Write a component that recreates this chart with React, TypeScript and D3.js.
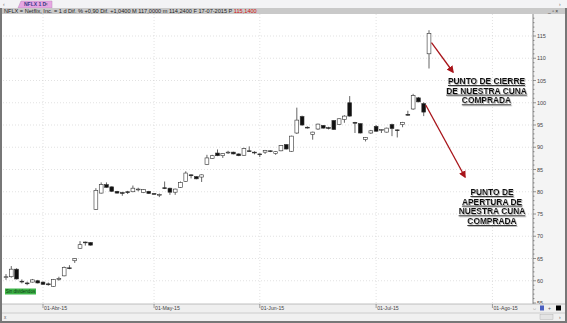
import React from "react";
import * as d3 from "d3";

const W = 567;
const H = 323;

const holidays = ["2015-04-03", "2015-05-25", "2015-07-03"];
const startDate = "2015-03-23";
const endDate = "2015-08-31";

const opens = [60.7,60.9,62.6,59.9,59.5,59.7,60.0,59.7,59.3,58.7,60.3,61.1,62.9,64.5,67.3,68.7,68.6,76.0,79.7,81.6,81.1,80.1,79.8,80.0,80.0,80.5,79.8,80.1,79.6,79.3,80.9,80.8,79.9,81.0,82.3,83.8,83.4,83.3,86.1,87.5,88.7,88.1,88.8,88.9,88.5,88.2,89.2,88.9,88.5,88.9,89.2,88.6,89.2,90.6,89.1,93.2,96.9,94.5,92.9,94.1,94.9,94.4,96.0,95.1,96.2,100.0,95.6,95.3,91.7,93.2,94.7,93.9,93.4,95.1,93.9,95.1,97.4,98.6,101.1,99.8,111.0];
const highs = [61.5,63.3,62.8,60.3,59.8,60.4,60.2,59.8,59.6,60.4,60.9,63.2,63.5,65.1,68.9,68.8,68.7,80.8,82.1,82.1,81.2,80.2,80.0,80.2,81.4,80.9,80.6,80.2,79.7,79.6,82.3,80.9,80.7,82.3,84.6,83.9,83.5,83.9,88.3,88.3,89.5,88.7,89.2,89.0,88.6,89.9,90.2,89.1,88.6,89.4,89.3,89.1,90.5,90.7,92.6,98.9,97.1,94.7,93.5,95.3,95.0,94.6,96.1,96.5,97.2,101.5,95.7,95.4,92.3,93.9,95.0,94.1,94.4,95.3,94.0,95.7,98.2,102.0,101.3,100.1,116.3];
const lows = [60.2,60.7,60.3,59.4,59.0,59.6,59.4,59.1,58.9,58.6,60.0,61.0,62.6,64.0,67.2,67.9,67.9,75.9,79.6,80.9,80.0,79.6,79.1,79.5,79.9,80.1,79.7,79.5,79.4,78.8,80.6,79.3,79.3,80.9,82.2,83.0,82.8,82.2,86.0,87.4,88.0,87.6,88.5,88.4,88.0,88.1,89.0,88.4,87.8,88.5,88.9,88.3,89.1,89.5,89.0,93.0,94.8,94.2,91.7,93.9,94.2,94.0,93.9,95.0,95.5,96.9,93.2,93.1,91.3,93.0,93.5,93.2,93.3,92.5,92.2,94.5,97.1,98.4,100.1,97.0,107.7];
const closes = [60.9,62.6,60.4,59.8,59.4,60.2,59.5,59.2,59.1,60.3,60.5,63.0,62.8,65.0,68.1,68.6,68.0,80.3,81.6,81.0,80.1,79.7,79.7,79.8,80.8,80.6,80.5,79.6,79.5,79.4,80.7,79.9,80.6,82.1,84.2,83.6,82.9,83.8,87.6,88.1,88.1,88.6,88.9,88.5,88.1,89.7,89.1,88.8,88.4,89.3,89.1,89.0,90.4,89.6,92.5,96.1,95.0,94.4,93.4,95.2,94.3,94.3,94.0,96.4,97.0,97.0,95.4,93.2,92.2,93.7,93.6,94.0,94.3,94.2,93.8,95.6,97.2,101.6,100.2,97.9,115.6];

const yTicks = [55, 60, 65, 70, 75, 80, 85, 90, 95, 100, 105, 110, 115];
const monthNames = ["Ene", "Feb", "Mar", "Abr", "May", "Jun", "Jul", "Ago", "Sep", "Oct", "Nov", "Dic"];

const headerText = "NFLX = Netflix, Inc. =  1 d Dif. %  +0,90 Dif.  +1,0400 M  117,0000 m  114,2400 F  17-07-2015 P";
const headerLast = "115,1400";

const note1 = ["PUNTO DE CIERRE", "DE NUESTRA CUNA", "COMPRADA"];
const note2 = ["PUNTO DE", "APERTURA DE", "NUESTRA CUNA", "COMPRADA"];

const parse = d3.timeParse("%Y-%m-%d");
const fmt = d3.timeFormat("%Y-%m-%d");
const tradingDays = d3.timeDay
  .range(parse(startDate)!, d3.timeDay.offset(parse(endDate)!, 1))
  .filter((d) => d.getDay() !== 0 && d.getDay() !== 6 && !holidays.includes(fmt(d)));

export default function App() {
  const plotL = 3, plotR = 533, plotT = 14, plotB = 304;
  const x = d3.scaleLinear().domain([0, 80]).range([6, 429]);
  const y = d3.scaleLinear().domain([55, 115]).range([303, 36]);

  const monthTicks: { i: number; d: Date }[] = [];
  tradingDays.forEach((d, i) => {
    if (i > 0 && d.getMonth() !== tradingDays[i - 1].getMonth()) monthTicks.push({ i, d });
  });

  const minor = d3.range(55, 120, 1);
  const bw = 3.8;

  return (
    <svg width={W} height={H} style={{ position: "absolute", left: 0, top: 0, fontFamily: "Arial, 'Liberation Sans', sans-serif" }}>
      <defs>
        <marker id="ah" viewBox="0 0 10 10" refX="8" refY="5" markerWidth="5.5" markerHeight="5.5" orient="auto">
          <path d="M0,0 L10,5 L0,10 z" fill="#a8141a" />
        </marker>
        <filter id="sh" x="-10%" y="-10%" width="130%" height="140%">
          <feDropShadow dx="0.8" dy="0.8" stdDeviation="0.4" floodColor="#888" floodOpacity="0.8" />
        </filter>
      </defs>
      <rect x={0} y={0} width={W} height={H} fill="#ffffff" />
      {/* tab strip */}
      <rect x={0} y={0} width={W} height={8} fill="#f3f3f5" />
      <text x={3} y={6} fontSize={5} fill="#666">‹</text>
      <path d="M18,8 L21,1 L52,1 L52,8 Z" fill="#e7a6e3" stroke="#b98ab8" strokeWidth={0.5} />
      <text x={24} y={6.3} fontSize={5} fontWeight="bold" fill="#3a3a8a">NFLX 1 D</text>
      <text x={45} y={6.3} fontSize={5} fill="#666">×</text>
      <text x={559} y={6} fontSize={5} fill="#666">›</text>
      {/* info bar */}
      <rect x={2} y={8} width={W - 4} height={6} fill="#c9c9c9" />
      <text x={4} y={12.9} fontSize={5.6} fill="#222">
        {headerText} <tspan fill="#d01010">{headerLast}</tspan>
      </text>
      <text x={548} y={13} fontSize={5} fill="#333">_ ▫ ×</text>
      {/* right axis panel */}
      <rect x={plotR} y={plotT} width={W - plotR - 2} height={plotB - plotT} fill="#f4f4f4" />
      {/* grid */}
      {yTicks.filter((t) => t > 55).map((t) => (
        <line key={"g" + t} x1={plotL} x2={plotR} y1={y(t)} y2={y(t)} stroke="#cfcfcf" strokeWidth={0.6} strokeDasharray="1,2" />
      ))}
      {monthTicks.map((m) => (
        <line key={"v" + m.i} x1={x(m.i)} x2={x(m.i)} y1={plotT} y2={plotB} stroke="#cfcfcf" strokeWidth={0.6} strokeDasharray="1,2" />
      ))}
      {/* y axis */}
      <line x1={plotR} x2={plotR} y1={plotT} y2={plotB} stroke="#555" strokeWidth={0.7} />
      {minor.map((t) => (
        <line key={"m" + t} x1={plotR} x2={plotR + (t % 5 === 0 ? 3 : 1.5)} y1={y(t)} y2={y(t)} stroke="#555" strokeWidth={0.6} />
      ))}
      {yTicks.map((t) => (
        <text key={"yl" + t} x={plotR + 4} y={y(t) + 2} fontSize={5.5} fill="#444">{t}</text>
      ))}
      {/* candles */}
      {opens.map((o, i) => {
        const c = closes[i];
        const up = c >= o;
        const top = y(Math.max(o, c));
        const bot = y(Math.min(o, c));
        const cx = x(i);
        const h = Math.max(bot - top, 0.8);
        return (
          <g key={"c" + i}>
            <line x1={cx} x2={cx} y1={y(highs[i])} y2={y(lows[i])} stroke="#222" strokeWidth={0.7} />
            <rect x={cx - bw / 2} y={top} width={bw} height={h} fill={up ? "#ffffff" : "#111"} stroke="#333" strokeWidth={0.6} />
          </g>
        );
      })}
      {/* arrows */}
      <line x1={x(80) + 2.5} y1={y(113.5)} x2={453} y2={72} stroke="#a8141a" strokeWidth={1.3} markerEnd="url(#ah)" />
      <line x1={x(79) + 2} y1={y(99.5)} x2={465} y2={177} stroke="#a8141a" strokeWidth={1.3} markerEnd="url(#ah)" />
      {/* notes */}
      <g filter="url(#sh)">
        {note1.map((s, k) => (
          <text key={"n1" + k} x={486.5} y={84 + k * 9.7} textAnchor="middle" fontSize={8.4} fontWeight="bold" textDecoration="underline" fill="#111">{s}</text>
        ))}
        {note2.map((s, k) => (
          <text key={"n2" + k} x={492} y={195 + k * 9.7} textAnchor="middle" fontSize={8.4} fontWeight="bold" textDecoration="underline" fill="#111">{s}</text>
        ))}
      </g>
      {/* green label */}
      <rect x={5} y={288.5} width={31} height={6} fill="#3fb54a" />
      <text x={20.5} y={293.3} textAnchor="middle" fontSize={4.5} fill="#0a3a0a">Sin dividendos</text>
      {/* x axis strip */}
      <rect x={2} y={plotB} width={W - 4} height={9} fill="#efefef" />
      <line x1={2} x2={W - 2} y1={plotB} y2={plotB} stroke="#999" strokeWidth={0.6} />
      {monthTicks.map((m) => (
        <g key={"xl" + m.i}>
          <line x1={x(m.i)} x2={x(m.i)} y1={plotB} y2={plotB + 4} stroke="#666" strokeWidth={0.6} />
          <text x={x(m.i) + 1} y={plotB + 6} fontSize={5.2} fill="#444">
            {"01-" + monthNames[m.d.getMonth()] + "-" + d3.timeFormat("%y")(m.d)}
          </text>
        </g>
      ))}
      <text x={532} y={310} fontSize={5} fill="#777">⇔</text>
      <rect x={540} y={305.5} width={4} height={5} fill="#4a5fc0" />
      <text x={548} y={310} fontSize={5} fill="#555">+</text>
      <rect x={556} y={305.5} width={5} height={5} fill="#000" />
      {/* bottom bar */}
      <rect x={2} y={313} width={W - 4} height={8} fill="#f0f0f0" />
      <line x1={2} x2={W - 2} y1={313} y2={313} stroke="#aaa" strokeWidth={0.5} />
      <text x={4} y={319} fontSize={4.5} fill="#555">x</text>
      <rect x={540} y={314.5} width={13} height={5} fill="#e4e4e4" stroke="#aaa" strokeWidth={0.4} />
      <text x={559} y={319} fontSize={5} fill="#555">›</text>
      {/* borders */}
      <rect x={0} y={8} width={2} height={H - 8} fill="#777" />
      <rect x={W - 2} y={8} width={2} height={H - 8} fill="#777" />
      <rect x={0} y={H - 2} width={W} height={2} fill="#777" />
    </svg>
  );
}
